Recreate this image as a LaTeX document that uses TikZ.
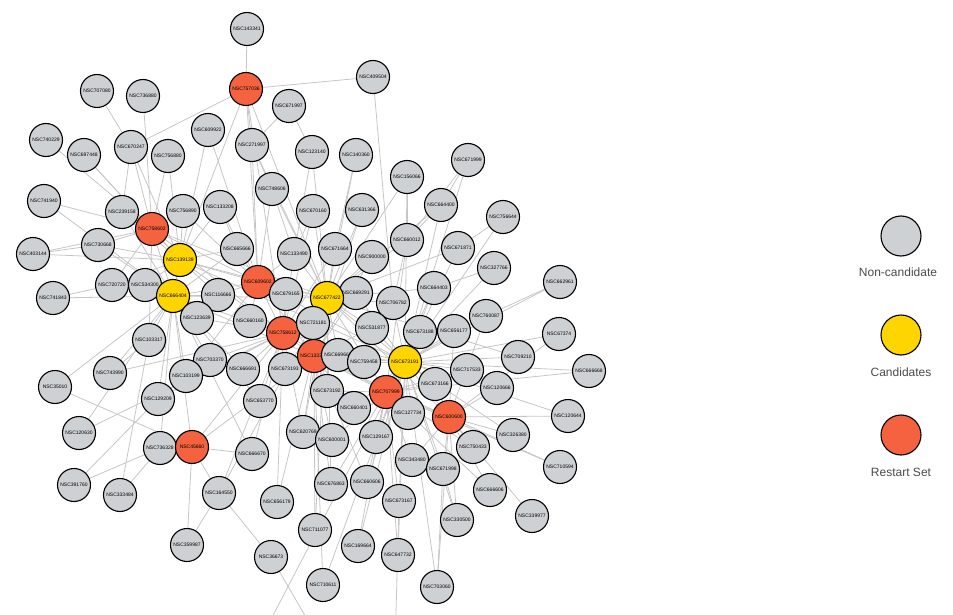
\documentclass[tikz,border=0pt]{standalone}
\usepackage{fontspec}
\setmainfont{Liberation Sans}
\pgfdeclarelayer{bg}
\pgfsetlayers{bg,main}
\definecolor{ngrey}{HTML}{CED1D4}
\definecolor{nred}{HTML}{F5623F}
\definecolor{nyel}{HTML}{FFD500}
\definecolor{edgec}{HTML}{C6C6C6}
\definecolor{legt}{HTML}{4A4A4A}
\tikzset{
  base/.style={circle,draw=black,line width=1.1pt,minimum size=33pt,inner sep=0pt,font=\fontsize{5}{5}\selectfont},
  gn/.style={base,fill=ngrey},
  rn/.style={base,fill=nred},
  yn/.style={base,fill=nyel},
  edge/.style={draw=edgec,line width=0.8pt},
  legc/.style={circle,draw=black,line width=1.1pt,minimum size=40pt,inner sep=0pt},
  legtext/.style={text=legt,font=\fontsize{12}{12}\selectfont}
}
\begin{document}
\begin{tikzpicture}[x=1pt,y=-1pt]
\path[use as bounding box] (0,0) rectangle (953,615);
\coordinate (b1) at (255,650);
\coordinate (b2) at (325,650);
\coordinate (b3) at (395,650);
% nodes
\node[gn] (a1) at (247,29) {NSC143341};
\node[rn] (r1) at (246,89) {NSC757036};
\node[gn] (a2) at (373,77) {NSC409504};
\node[gn] (a3) at (289,106) {NSC671997};
\node[gn] (a4) at (97,91) {NSC707080};
\node[gn] (a5) at (143,96) {NSC736880};
\node[gn] (a6) at (46,140) {NSC740229};
\node[gn] (a7) at (84,155) {NSC697448};
\node[gn] (a8) at (131,147) {NSC670247};
\node[gn] (a9) at (168,156) {NSC756880};
\node[gn] (a10) at (208,130) {NSC609922};
\node[gn] (a11) at (252,145) {NSC271997};
\node[gn] (a12) at (312,152) {NSC123140};
\node[gn] (a13) at (356,155) {NSC140360};
\node[gn] (a14) at (44,201) {NSC741940};
\node[gn] (a15) at (122,212) {NSC239158};
\node[gn] (a16) at (183,211) {NSC756890};
\node[rn] (r2) at (152,229) {NSC758602};
\node[gn] (a17) at (220,207) {NSC133208};
\node[gn] (a18) at (272,189) {NSC748606};
\node[gn] (a19) at (313,211) {NSC670160};
\node[gn] (a20) at (362,210) {NSC631366};
\node[gn] (a21) at (407,177) {NSC156066};
\node[gn] (a22) at (468,160) {NSC671999};
\node[gn] (a23) at (441,205) {NSC664400};
\node[gn] (a24) at (503,217) {NSC756644};
\node[gn] (a25) at (407,240) {NSC660012};
\node[gn] (a26) at (458,248) {NSC671871};
\node[gn] (a27) at (494,268) {NSC327766};
\node[gn] (a28) at (560,282) {NSC662961};
\node[gn] (a29) at (372,257) {NSC900000};
\node[gn] (a30) at (335,249) {NSC671664};
\node[gn] (a31) at (294,254) {NSC133490};
\node[gn] (a32) at (237,249) {NSC665666};
\node[yn] (y1) at (180,260) {NSC139139};
\node[gn] (a33) at (98,245) {NSC730668};
\node[gn] (a34) at (33,254) {NSC403144};
\node[gn] (a35) at (53,298) {NSC741843};
\node[gn] (a36) at (112,285) {NSC720720};
\node[gn] (a37) at (145,285) {NSC534300};
\node[yn] (y2) at (173,296) {NSC666404};
\node[gn] (a38) at (218,295) {NSC116666};
\node[rn] (r3) at (258,282) {NSC609602};
\node[gn] (a39) at (286,294) {NSC679165};
\node[gn] (a40) at (356,293) {NSC669291};
\node[yn] (y3) at (327,298) {NSC677422};
\node[gn] (a41) at (393,303) {NSC706782};
\node[gn] (a42) at (434,288) {NSC664403};
\node[gn] (a43) at (486,316) {NSC760087};
\node[gn] (a44) at (420,332) {NSC673188};
\node[gn] (a45) at (454,331) {NSC656177};
\node[gn] (a46) at (559,334) {NSC67374};
\node[gn] (a47) at (197,318) {NSC123639};
\node[gn] (a48) at (250,321) {NSC660160};
\node[rn] (r4) at (283,333) {NSC758612};
\node[gn] (a49) at (313,323) {NSC721181};
\node[gn] (a50) at (372,328) {NSC531877};
\node[gn] (a51) at (149,340) {NSC103317};
\node[gn] (a52) at (210,360) {NSC703370};
\node[gn] (a53) at (243,369) {NSC666691};
\node[gn] (a54) at (285,369) {NSC673193};
\node[rn] (r5) at (314,356) {NSC133327};
\node[gn] (a55) at (338,355) {NSC669666};
\node[gn] (a56) at (364,362) {NSC759458};
\node[yn] (y4) at (405,362) {NSC673191};
\node[gn] (a57) at (110,373) {NSC743990};
\node[gn] (a58) at (186,376) {NSC103199};
\node[gn] (a59) at (55,387) {NSC35010};
\node[gn] (a60) at (158,399) {NSC129209};
\node[gn] (a61) at (327,391) {NSC673192};
\node[rn] (r6) at (386,392) {NSC707999};
\node[gn] (a62) at (435,384) {NSC673166};
\node[gn] (a63) at (467,370) {NSC717533};
\node[gn] (a64) at (518,357) {NSC709210};
\node[gn] (a65) at (589,371) {NSC666668};
\node[gn] (a66) at (497,388) {NSC120666};
\node[gn] (a67) at (260,401) {NSC653770};
\node[gn] (a68) at (354,408) {NSC660401};
\node[gn] (a69) at (408,413) {NSC127734};
\node[rn] (r7) at (449,417) {NSC600600};
\node[gn] (a70) at (568,416) {NSC120644};
\node[gn] (a71) at (79,433) {NSC120630};
\node[gn] (a72) at (160,448) {NSC736328};
\node[rn] (r8) at (192,447) {NSC45660};
\node[gn] (a73) at (303,432) {NSC620769};
\node[gn] (a74) at (332,440) {NSC600001};
\node[gn] (a75) at (376,437) {NSC129167};
\node[gn] (a76) at (513,435) {NSC326380};
\node[gn] (a77) at (473,447) {NSC750433};
\node[gn] (a78) at (252,454) {NSC666670};
\node[gn] (a79) at (412,460) {NSC343480};
\node[gn] (a80) at (443,469) {NSC671998};
\node[gn] (a81) at (560,467) {NSC710594};
\node[gn] (a82) at (74,485) {NSC391760};
\node[gn] (a83) at (120,495) {NSC333484};
\node[gn] (a84) at (219,493) {NSC164550};
\node[gn] (a85) at (331,484) {NSC676863};
\node[gn] (a86) at (367,482) {NSC660606};
\node[gn] (a87) at (399,501) {NSC673167};
\node[gn] (a88) at (277,502) {NSC656179};
\node[gn] (a89) at (490,490) {NSC666606};
\node[gn] (a90) at (457,520) {NSC330500};
\node[gn] (a91) at (532,516) {NSC339977};
\node[gn] (a92) at (315,530) {NSC711077};
\node[gn] (a93) at (358,546) {NSC169664};
\node[gn] (a94) at (187,545) {NSC359987};
\node[gn] (a95) at (271,557) {NSC36673};
\node[gn] (a96) at (398,555) {NSC647732};
\node[gn] (a97) at (323,585) {NSC710611};
\node[gn] (a98) at (437,587) {NSC703060};
% legend
\node[legc,fill=ngrey] (l1) at (901,236) {};
\node[legtext] (lt1) at (898,272) {Non-candidate};
\node[legc,fill=nyel] (l2) at (901,335) {};
\node[legtext] (lt2) at (901,372) {Candidates};
\node[legc,fill=nred] (l3) at (901,435) {};
\node[legtext] (lt3) at (901,472) {Restart Set};
% edges
\begin{pgfonlayer}{bg}
\foreach \p/\q in {a1/r1,r1/a2,r1/a11,r1/a8,r1/r3,r1/y3,r1/y1,r1/r4,
 a3/a11,a3/a12,a2/a41,a4/a8,a5/r2,a6/r2,a7/r2,a7/y1,a8/r2,a8/y1,a8/a15,
 a9/r2,a9/y1,a10/y1,a10/r3,a11/r3,a11/a18,a11/y3,a12/a31,a12/y3,a13/y3,a13/a30,
 a14/r2,a14/y2,a15/r2,a15/y1,a15/y2,a16/r2,a16/y1,a16/r3,a17/y1,a17/r3,a17/a32,
 a18/r3,a18/y3,a18/a31,a19/y3,a19/r4,a19/a31,a20/y3,a20/r5,a21/a25,a21/y3,a21/y4,
 a22/a23,a22/a25,a22/y4,a23/a25,a23/y4,a23/y3,a24/a26,a24/y4,a25/y3,a25/a41,a25/r6,
 a26/y4,a26/y3,a27/a42,a27/y4,a28/a43,a28/y4,a29/y3,a29/r5,a30/y3,a30/r4,
 a31/r3,a31/y3,a31/r4,a32/r3,a32/y1,a32/y2,a33/r2,a33/y1,a33/y2,a33/a34,
 a34/y1,a34/r2,a35/y2,a35/a36,a36/y2,a36/y1,a36/r2,a37/y2,a37/y1,
 a38/y2,a38/r3,a38/y1,a39/r3,a39/y3,a39/r4,a40/y3,a40/r5,a40/y4,a41/y3,a41/y4,
 a42/y4,a42/y3,a42/r6,a43/y4,a43/r7,a44/y4,a44/r6,a45/y4,a45/r7,a46/y4,a46/r7,
 a47/y2,a47/r4,a48/r3,a48/r4,a49/r4,a49/y3,a49/r5,a50/y3,a50/r5,a50/y4,
 a51/y2,a51/r2,a52/y2,a52/r4,a53/r4,a53/y2,a54/r4,a54/r5,a55/r5,a55/y3,a55/y4,
 a56/r5,a56/y4,a57/y2,a57/r4,a57/a51,a58/y2,a58/r3,a59/y2,a59/r8,a60/y2,a60/r4,
 a61/r5,a61/r6,a61/y3,a62/y4,a62/r6,a62/r7,a63/y4,a63/r6,a64/y4,a64/y3,a65/r6,a65/y4,
 a66/y4,a66/r7,a67/r4,a67/y2,a68/r5,a68/r6,a68/y4,a69/r6,a69/y4,a70/r7,a70/y4,
 a71/y2,a71/r4,a72/r8,a72/y2,a73/r5,a73/r4,a73/y3,a74/r5,a74/r6,a75/r6,a75/y4,
 a76/r7,a76/y4,a77/r7,a77/r6,a78/r8,a78/r4,a78/y2,a79/r7,a79/r6,a80/r7,a80/y4,a80/a90,
 a81/r7,a81/r6,a82/a72,a82/a60,a83/a72,a83/a51,a84/r8,a84/r4,a84/y3,a84/a95,a94/r8,a94/a84,
 a85/r5,a85/y3,a85/r6,a86/r6,a86/y4,a86/r5,a87/r6,a87/y4,a88/r4,a88/y3,
 a89/r7,a89/r6,a90/r7,a90/y4,a91/r7,a92/r5,a92/y3,a93/r6,a93/y4,a96/r6,a96/y4,
 a97/r5,a97/y4,a98/a80,a98/r7,a98/y4,a95/b2,b1/y4,b3/a87,
 r2/y1,r2/y2,r2/r3,r2/y3,y1/y2,y1/r3,y1/y3,y1/r4,y2/r3,y2/r4,y2/r5,y2/y3,
 r3/y3,r3/r4,r3/r5,r3/y4,y3/r4,y3/r5,y3/y4,y3/r6,r4/r5,r4/y4,r4/r6,r5/y4,r5/r6,
 y4/r6,y4/r7,r6/r7,r2/r4,y1/y4,r8/r4,r8/y2,r8/r5,r7/r5,r7/y3}
 \draw[edge] (\p) -- (\q);
\end{pgfonlayer}
\end{tikzpicture}
\end{document}
